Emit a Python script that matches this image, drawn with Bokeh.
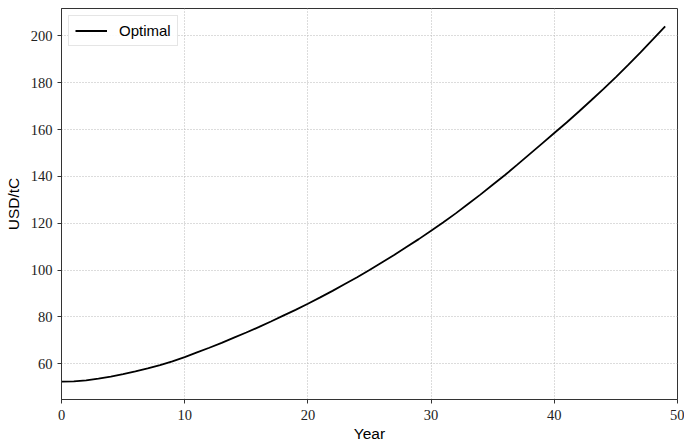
from bokeh.plotting import figure
from bokeh.models import ColumnDataSource, Range1d, FixedTicker, Legend, LegendItem
from bokeh.embed import file_html
from bokeh.resources import INLINE

years = list(range(50))
optimal = [52.3, 52.4, 52.9, 53.6, 54.5, 55.5, 56.7, 58.0, 59.4, 61.0,
           62.8, 64.8, 66.8, 68.9, 71.1, 73.3, 75.6, 78.0, 80.5, 83.0,
           85.6, 88.3, 91.1, 94.0, 96.9, 100.0, 103.2, 106.4, 109.8, 113.2,
           116.8, 120.4, 124.2, 128.2, 132.2, 136.4, 140.6, 145.0, 149.5, 154.0,
           158.5, 163.0, 167.7, 172.5, 177.4, 182.4, 187.6, 193.0, 198.5, 204.1]
x_ticks = [0, 10, 20, 30, 40, 50]
y_ticks = [60, 80, 100, 120, 140, 160, 180, 200]

src = ColumnDataSource(dict(x=years, y=optimal))

p = figure(width=684, height=444, output_backend="svg", toolbar_location=None,
           x_range=Range1d(0, 50), y_range=Range1d(44.7, 211.7),
           min_border_left=61, min_border_right=7, min_border_top=8, min_border_bottom=44)

r = p.line("x", "y", source=src, line_color="black", line_width=1.8)

p.outline_line_color = "#333333"
p.outline_line_width = 1
p.background_fill_color = "white"
p.border_fill_color = "white"

for ax in (p.xaxis[0], p.yaxis[0]):
    ax.major_label_text_font = "Liberation Serif"
    ax.major_label_text_font_size = "14.5px"
    ax.major_label_text_color = "#222222"
    ax.axis_label_text_font = "Liberation Sans"
    ax.axis_label_text_font_size = "15.5px"
    ax.axis_label_text_font_style = "normal"
    ax.axis_label_text_color = "black"
    ax.axis_line_color = "#333333"
    ax.major_tick_line_color = "#333333"
    ax.major_tick_out = 4
    ax.major_tick_in = 0
    ax.minor_tick_line_color = None

p.xaxis.ticker = FixedTicker(ticks=x_ticks)
p.yaxis.ticker = FixedTicker(ticks=y_ticks)
p.xaxis.axis_label = "Year"
p.yaxis.axis_label = "USD/tC"
p.xaxis.axis_label_standoff = 2
p.yaxis.axis_label_standoff = 6
p.xaxis.major_label_standoff = 6
p.yaxis.major_label_standoff = 5

for g in (p.xgrid[0], p.ygrid[0]):
    g.grid_line_color = "#b8b8b8"
    g.grid_line_dash = "1 2"
    g.grid_line_width = 1

legend = Legend(items=[LegendItem(label="Optimal", renderers=[r])],
                location="top_left",
                label_text_font="Liberation Sans", label_text_font_size="15px",
                label_text_color="black",
                glyph_width=32, glyph_height=15, label_height=15, label_standoff=12,
                padding=6, margin=7, spacing=0,
                border_line_color="#cccccc", border_line_width=1,
                background_fill_alpha=0.9)
p.add_layout(legend)

open("out.html", "w").write(file_html(p, INLINE))
